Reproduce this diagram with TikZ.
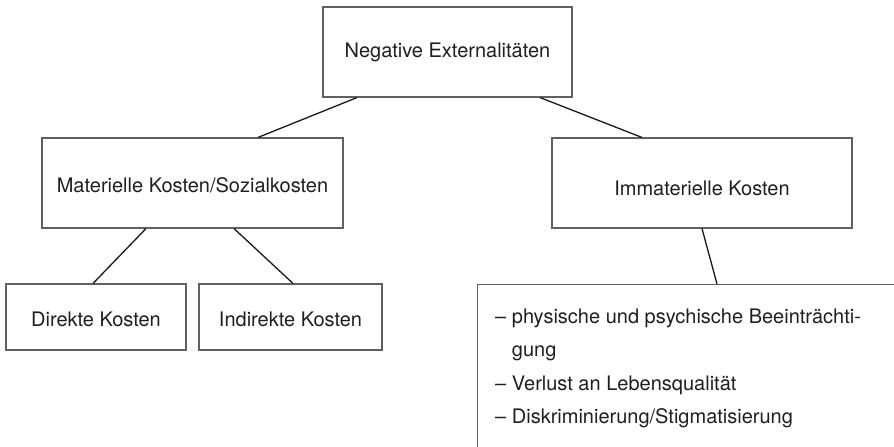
\documentclass[tikz,border=0pt]{standalone}
\usepackage{fontspec}
\setmainfont{TeX Gyre Heros}
\begin{document}
\begin{tikzpicture}[x=1pt,y=-1pt,
  box/.style={draw=black!62, line width=1.1pt, inner sep=0pt,
    font=\fontsize{20}{24}\selectfont, text=black!88, text depth=0pt},
  link/.style={draw=black!90, line width=1.3pt},
  item/.style={anchor=base west, inner sep=0pt,
    font=\fontsize{20}{24}\selectfont, text=black!88}]
\useasboundingbox (0,0) rectangle (894,447);
\fill[white] (0,0) rectangle (894,447);
\clip (0,0) rectangle (894,447);

% boxes of the cost tree
\node[box, minimum width=249, minimum height=90, text height=11pt]
  (neg) at (447.5,52) {Negative Externalitäten};
\node[box, minimum width=301, minimum height=90, text height=19pt]
  (mat) at (192.5,183) {Materielle Kosten/Sozialkosten};
\node[box, minimum width=300, minimum height=90, text height=24pt]
  (imm) at (702,183) {Immaterielle Kosten};
\node[box, minimum width=180, minimum height=66, text height=19pt]
  (dir) at (96,317) {Direkte Kosten};
\node[box, minimum width=183, minimum height=66, text height=19pt]
  (ind) at (290.5,317) {Indirekte Kosten};

% open list box running off the lower right edge
\node[box, anchor=north west, minimum width=440, minimum height=190]
  (liste) at (477,284) {};
\node[item] (l1) at (495,323) {– physische und psychische Beeinträchti-};
\node[item] (l2) at (511.7,356.5) {gung};
\node[item] (l3) at (495,390) {– Verlust an Lebensqualität};
\node[item] (l4) at (495,423.5) {– Diskriminierung/Stigmatisierung};

% connectors
\draw[link] ([xshift=-90.5pt]neg.south) -- ([xshift=65.5pt]mat.north);
\draw[link] ([xshift=92.5pt]neg.south) -- ([xshift=-60pt]imm.north);
\draw[link] ([xshift=-46.5pt]mat.south) -- ([xshift=-3pt]dir.north);
\draw[link] ([xshift=41.5pt]mat.south) -- ([xshift=2.5pt]ind.north);
\coordinate (lt) at ([xshift=240pt]liste.north west);
\draw[link] (imm.south) -- (lt);
\end{tikzpicture}
\end{document}
